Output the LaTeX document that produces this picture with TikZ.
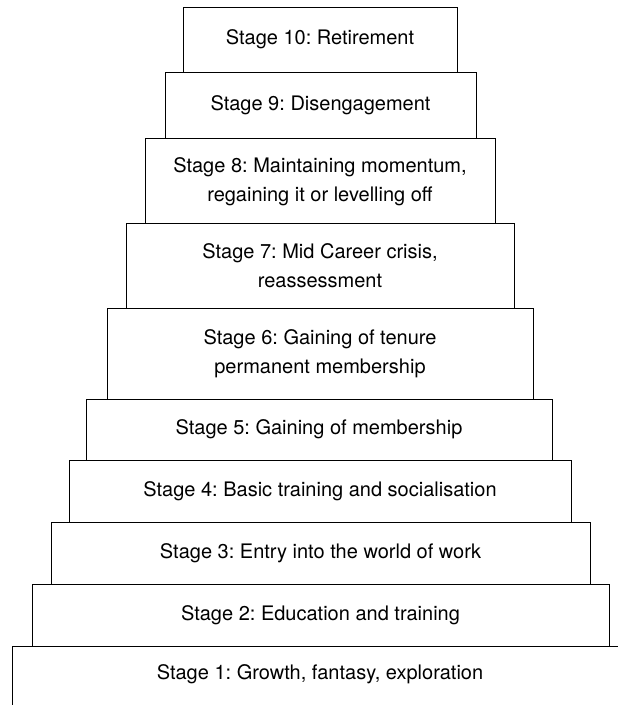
\documentclass[tikz,border=0pt]{standalone}
\usepackage{fontspec}
\setmainfont{TeX Gyre Heros}
\usepackage{tikz}
\frenchspacing

\tikzset{
  stage/.style={draw, line width=0.9pt, align=center, inner sep=0pt,
    font=\fontsize{20}{28.5}\selectfont},
  stagetext/.style={align=center, inner sep=0pt, font=\fontsize{20}{28.5}\selectfont}
}

\begin{document}
\begin{tikzpicture}[x=1pt,y=-1pt]
 \useasboundingbox (0,0) rectangle (618,705);
 \clip (0,0) rectangle (618,705);
 % steps, top down
 \node[stage, minimum width=274pt, minimum height=65pt] (s10) at (320,39.5) {Stage 10: Retirement};
 \node[stage, minimum width=311pt, minimum height=66pt] (s9) at (320.5,105) {Stage 9: Disengagement};
 \node[stage, minimum width=350pt, minimum height=85pt, text depth=2pt] (s8) at (320,180.5) {Stage 8: Maintaining momentum,\\ regaining it or levelling off};
 \node[stage, minimum width=388pt, minimum height=85pt] (s7) at (320,265.5) {Stage 7: Mid Career crisis,\\ reassessment};
 \node[stage, minimum width=426pt, minimum height=91pt] (s6) at (320,353.5) {Stage 6: Gaining of tenure\\ permanent membership};
 \node[stage, minimum width=466pt, minimum height=61pt] (s5) at (319,429.5) {Stage 5: Gaining of membership};
 \node[stage, minimum width=502pt, minimum height=62pt] (s4) at (320,491) {Stage 4: Basic training and socialisation};
 \node[stage, minimum width=539pt, minimum height=62pt] (s3) at (320.5,553) {Stage 3: Entry into the world of work};
 \node[stage, minimum width=577pt, minimum height=62pt] (s2) at (320.5,615) {Stage 2: Education and training};
 % bottom step runs off the page
 \node[stagetext] (s1) at (320,674) {Stage 1: Growth, fantasy, exploration};
 \draw[line width=0.9pt] (12,715) |- (630,646);
\end{tikzpicture}
\end{document}
